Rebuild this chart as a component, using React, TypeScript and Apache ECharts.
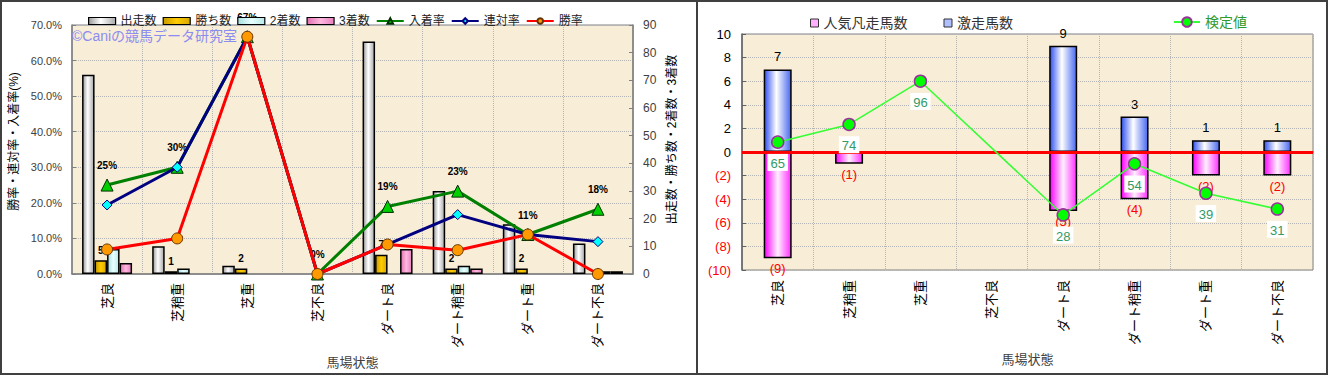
import React, { useEffect, useRef } from "react";
import * as echarts from "echarts";

// ---------- data: left chart ----------
const categories = ["芝良", "芝稍重", "芝重", "芝不良", "ダート良", "ダート稍重", "ダート重", "ダート不良"];
const starters = [72, 10, 3, 0, 84, 30, 18, 11];
const wins = [5, 1, 2, 0, 7, 2, 2, 0];
const seconds = [9, 2, 0, 0, 0, 3, 0, 1];
const thirds = [4, 0, 0, 0, 9, 2, 0, 1];
const placeRate = [25.0, 30.0, 66.7, 0, 19.0, 23.3, 11.1, 18.2];
const quinellaRate = [19.4, 30.0, 66.7, 0, 8.3, 16.7, 11.1, 9.1];
const winRate = [6.9, 10.0, 66.7, 0, 8.3, 6.7, 11.1, 0];

// ---------- data: right chart ----------
const surgeCounts = [7, 0, 0, 0, 9, 3, 1, 1];
const flopCounts = [-9, -1, 0, 0, -5, -4, -2, -2];
const testValues: (number | null)[] = [65, 74, 96, null, 28, 54, 39, 31];

const FONT = "'Liberation Sans', 'Noto Sans CJK JP', sans-serif";

const nz = (arr: number[]) => arr.map((v) => (v === 0 ? "-" : v));
const hGrad = (stops: [number, string][]) =>
  new echarts.graphic.LinearGradient(0, 0, 1, 0, stops.map(([offset, color]) => ({ offset, color })));

const grayGrad = hGrad([[0, "#9a9a9a"], [0.45, "#ffffff"], [1, "#a8a8a8"]]);
const goldGrad = hGrad([[0, "#c89a00"], [0.5, "#ffcc00"], [1, "#d8a800"]]);
const cyanGrad = hGrad([[0, "#a8dede"], [0.5, "#e8ffff"], [1, "#b8e8e8"]]);
const pinkGrad = hGrad([[0, "#e070b0"], [0.5, "#ffb8e0"], [1, "#e880c0"]]);
const blueGrad = hGrad([[0, "#3050f0"], [0.45, "#ffffff"], [1, "#4868f0"]]);
const magentaGrad = hGrad([[0, "#ff00ff"], [0.5, "#fff0ff"], [1, "#ff30ff"]]);

const barBorder = { borderColor: "#000", borderWidth: 1.5 };
const dotted = { show: true, lineStyle: { color: "#b4b4b4", type: "dotted" as const, width: 1 } };

const option: any = {
  animation: false,
  backgroundColor: "#ffffff",
  textStyle: { fontFamily: FONT },
  graphic: [
    { type: "rect", shape: { x: 1, y: 1, width: 1326, height: 373 }, style: { fill: "none", stroke: "#404040", lineWidth: 2 }, z: 100 },
    { type: "line", shape: { x1: 697, y1: 1, x2: 697, y2: 374 }, style: { stroke: "#404040", lineWidth: 2 }, z: 100 },
    { type: "text", left: 72, top: 29, style: { text: "©Caniの競馬データ研究室", fill: "#8c8cf0", font: `14px ${FONT}` }, z: 5 },
  ],
  legend: [
    {
      left: 83, top: 10, itemWidth: 27, itemHeight: 7, itemGap: 6,
      textStyle: { fontSize: 12, color: "#222", fontFamily: FONT },
      data: [
        { name: "出走数", icon: "rect", itemStyle: { color: grayGrad, borderColor: "#000", borderWidth: 1.2 } },
        { name: "勝ち数", icon: "rect", itemStyle: { color: goldGrad, borderColor: "#000", borderWidth: 1.2 } },
        { name: "2着数", icon: "rect", itemStyle: { color: cyanGrad, borderColor: "#000", borderWidth: 1.2 } },
        { name: "3着数", icon: "rect", itemStyle: { color: pinkGrad, borderColor: "#000", borderWidth: 1.2 } },
        "入着率", "連対率", "勝率",
      ],
    },
    {
      left: 805, top: 11, itemWidth: 8, itemHeight: 8, itemGap: 36,
      textStyle: { fontSize: 14, color: "#333", fontFamily: FONT },
      data: [
        { name: "人気凡走馬数", icon: "rect", itemStyle: { color: "#ffb0ff", borderColor: "#333", borderWidth: 1 } },
        { name: "激走馬数", icon: "rect", itemStyle: { color: "#b0c0ff", borderColor: "#333", borderWidth: 1 } },
      ],
    },
    {
      left: 1168, top: 10, itemWidth: 26, itemHeight: 12,
      textStyle: { fontSize: 14, color: "#2e9a2e", fontFamily: FONT },
      data: ["検定値"],
    },
  ],
  grid: [
    { left: 72, top: 25, width: 561, height: 249, show: true, backgroundColor: "#f8edd6", borderColor: "#808080", borderWidth: 1 },
    { left: 742, top: 34, width: 571, height: 236, show: true, backgroundColor: "#f8edd6", borderColor: "#808080", borderWidth: 1 },
  ],
  xAxis: [
    {
      type: "category", gridIndex: 0, data: categories,
      axisLine: { lineStyle: { color: "#808080", width: 1.5 } },
      axisTick: { show: false },
      splitLine: dotted,
      axisLabel: { rotate: 90, fontSize: 13, color: "#000", margin: 9, fontFamily: FONT },
      name: "馬場状態", nameLocation: "middle", nameGap: 79,
      nameTextStyle: { fontSize: 13, color: "#404040", fontFamily: FONT },
    },
    {
      type: "category", gridIndex: 1, data: categories,
      axisLine: { lineStyle: { color: "#707070", width: 1.5 } },
      axisTick: { show: false },
      splitLine: dotted,
      axisLabel: { rotate: 90, fontSize: 13, color: "#000", margin: 10, fontFamily: FONT },
      name: "馬場状態", nameLocation: "middle", nameGap: 83,
      nameTextStyle: { fontSize: 13, color: "#404040", fontFamily: FONT },
    },
  ],
  yAxis: [
    {
      type: "value", gridIndex: 0, min: 0, max: 70, interval: 10, position: "left",
      axisLine: { show: true, lineStyle: { color: "#808080", width: 1.5 } },
      axisTick: { show: true, inside: true, length: 4, lineStyle: { color: "#808080" } },
      splitLine: dotted,
      axisLabel: { formatter: (v: number) => `${v.toFixed(1)}%`, fontSize: 11, color: "#404040", margin: 10, fontFamily: FONT },
      name: "勝率・連対率・入着率(%)", nameLocation: "middle", nameRotate: 90, nameGap: 52,
      nameTextStyle: { fontSize: 12, color: "#000", padding: [0, 0, 0, 16], fontFamily: FONT },
    },
    {
      type: "value", gridIndex: 0, min: 0, max: 90, interval: 10, position: "right",
      axisLine: { show: true, lineStyle: { color: "#808080", width: 1.5 } },
      axisTick: { show: true, inside: true, length: 4, lineStyle: { color: "#808080" } },
      splitLine: { show: false },
      axisLabel: { fontSize: 12, color: "#404040", margin: 10, fontFamily: FONT },
      name: "出走数・勝ち数・2着数・3着数", nameLocation: "middle", nameRotate: 90, nameGap: 33,
      nameTextStyle: { fontSize: 12, color: "#000", padding: [0, 0, 0, 20], fontFamily: FONT },
    },
    {
      type: "value", gridIndex: 1, min: -10, max: 10, interval: 2,
      axisLine: { show: true, lineStyle: { color: "#606060", width: 1.5 } },
      axisTick: { show: true, inside: true, length: 4, lineStyle: { color: "#606060" } },
      splitLine: dotted,
      axisLabel: {
        fontSize: 13, margin: 11, fontFamily: FONT,
        formatter: (v: number) => (v < 0 ? `(${-v})` : `${v}`),
        color: (v: any) => (Number(v) < 0 ? "#ff0000" : "#000"),
      },
    },
    { type: "value", gridIndex: 1, min: 0, max: 120, show: false, splitLine: { show: false } },
  ],
  series: [
    { name: "出走数", type: "bar", xAxisIndex: 0, yAxisIndex: 1, data: nz(starters), barWidth: 12.5, barGap: "0%", itemStyle: { color: grayGrad, ...barBorder } },
    {
      name: "勝ち数", type: "bar", xAxisIndex: 0, yAxisIndex: 1, data: nz(wins), barWidth: 12.5, barGap: "0%",
      itemStyle: { color: goldGrad, ...barBorder },
      label: { show: true, position: "top", distance: 5, fontSize: 10, fontWeight: "bold", color: "#000", fontFamily: FONT },
    },
    { name: "2着数", type: "bar", xAxisIndex: 0, yAxisIndex: 1, data: nz(seconds), barWidth: 12.5, barGap: "0%", itemStyle: { color: cyanGrad, ...barBorder } },
    { name: "3着数", type: "bar", xAxisIndex: 0, yAxisIndex: 1, data: nz(thirds), barWidth: 12.5, barGap: "0%", itemStyle: { color: pinkGrad, ...barBorder } },
    {
      name: "入着率", type: "line", xAxisIndex: 0, yAxisIndex: 0, data: placeRate, z: 3,
      lineStyle: { color: "#008000", width: 3 }, symbol: "triangle", symbolSize: 12,
      itemStyle: { color: "#00d000", borderColor: "#003000", borderWidth: 1 },
      label: { show: true, position: "top", distance: 8, fontSize: 10, fontWeight: "bold", color: "#000", formatter: (p: any) => `${Math.round(p.value)}%`, fontFamily: FONT },
    },
    {
      name: "連対率", type: "line", xAxisIndex: 0, yAxisIndex: 0, data: quinellaRate, z: 4,
      lineStyle: { color: "#000080", width: 3 }, symbol: "diamond", symbolSize: 10,
      itemStyle: { color: "#00ffff", borderColor: "#000080", borderWidth: 1 },
    },
    {
      name: "勝率", type: "line", xAxisIndex: 0, yAxisIndex: 0, data: winRate, z: 5,
      lineStyle: { color: "#ff0000", width: 3 }, symbol: "circle", symbolSize: 11,
      itemStyle: { color: "#ff9900", borderColor: "#663300", borderWidth: 1 },
    },
    {
      name: "人気凡走馬数", type: "bar", xAxisIndex: 1, yAxisIndex: 2, stack: "r", data: nz(flopCounts), barWidth: 28,
      itemStyle: { color: magentaGrad, ...barBorder },
      label: { show: true, position: "bottom", distance: 4, fontSize: 13, color: "#ff0000", formatter: (p: any) => `(${-p.value})`, fontFamily: FONT },
    },
    {
      name: "激走馬数", type: "bar", xAxisIndex: 1, yAxisIndex: 2, stack: "r", data: nz(surgeCounts), barWidth: 28,
      itemStyle: { color: blueGrad, ...barBorder },
      label: { show: true, position: "top", distance: 6, fontSize: 13, color: "#000", fontFamily: FONT },
      markLine: {
        silent: true, symbol: "none", label: { show: false },
        lineStyle: { color: "#ff0000", width: 3, type: "solid" },
        data: [{ yAxis: 0 }],
      },
    },
    {
      name: "検定値", type: "line", xAxisIndex: 1, yAxisIndex: 3, data: testValues, connectNulls: true, z: 6,
      lineStyle: { color: "#33ff33", width: 1.5 }, symbol: "circle", symbolSize: 12,
      itemStyle: { color: "#00ff00", borderColor: "#993399", borderWidth: 1.5 },
      label: {
        show: true, position: "bottom", distance: 5, fontSize: 13, color: "#339966",
        backgroundColor: "#ffffff", padding: [3, 3, 1, 3], fontFamily: FONT,
      },
    },
  ],
};

export default function App() {
  const ref = useRef<HTMLDivElement>(null);
  useEffect(() => {
    document.body.style.margin = "0";
    const chart = echarts.init(ref.current!, null, { renderer: "svg" });
    chart.setOption(option);
    return () => chart.dispose();
  }, []);
  return <div ref={ref} style={{ width: 1328, height: 375 }} />;
}
